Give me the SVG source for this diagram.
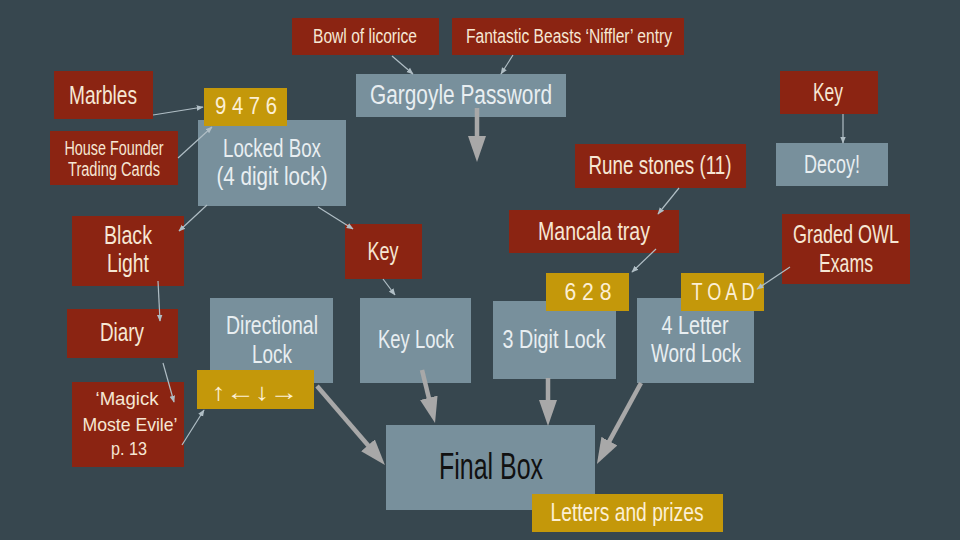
<svg xmlns="http://www.w3.org/2000/svg" width="960" height="540" viewBox="0 0 960 540">
<defs>
<style>
text{font-family:"Liberation Sans",Arial,sans-serif;text-anchor:middle}
.red rect{fill:#8b2412}
.red text{fill:#f6e7d4}
.grey rect{fill:#78909c}
.grey text{fill:#e8eef1}
.gold rect{fill:#c4980a}
.gold text{fill:#fcefd4}
.s19{font-size:19px}
.s20{font-size:20px}
.s24{font-size:24px}
.s25{font-size:25px}
.s26{font-size:26px}
.s27{font-size:27px}
.thin{stroke:#b0bec5;stroke-width:1.2;fill:none;marker-end:url(#ah)}
.thick{stroke:#a8a8a8;stroke-width:4.5;fill:none;marker-end:url(#bh)}
</style>
<marker id="ah" viewBox="0 0 10 10" refX="9" refY="5" markerWidth="7" markerHeight="7" markerUnits="userSpaceOnUse" orient="auto"><path d="M0,1 L10,5 L0,9 z" fill="#b0bec5"/></marker>
<marker id="bh" viewBox="0 0 26 18" refX="2" refY="9" markerWidth="26" markerHeight="18" markerUnits="userSpaceOnUse" orient="auto"><path d="M0,0 L26,9 L0,18 z" fill="#a8a8a8"/></marker>
</defs>
<rect width="960" height="540" fill="#37474f"/>

<g id="bowl" class="red"><rect x="292" y="18" width="147" height="37"/><text class="s20" x="365" y="43" textLength="104" lengthAdjust="spacingAndGlyphs">Bowl of licorice</text></g>
<g id="niffler" class="red"><rect x="452" y="18" width="232" height="37"/><text class="s20" x="569" y="43" textLength="206" lengthAdjust="spacingAndGlyphs">Fantastic Beasts ‘Niffler’ entry</text></g>
<g id="gargoyle" class="grey"><rect x="356" y="74" width="210" height="43"/><text class="s27" x="461" y="104" textLength="182" lengthAdjust="spacingAndGlyphs">Gargoyle Password</text></g>
<g id="marbles" class="red"><rect x="54" y="71" width="99" height="48"/><text class="s25" x="103" y="104" textLength="68" lengthAdjust="spacingAndGlyphs">Marbles</text></g>
<g id="housefounder" class="red"><rect x="50" y="131" width="128" height="54"/><text class="s20" x="114" y="155" textLength="99" lengthAdjust="spacingAndGlyphs">House Founder</text><text class="s20" x="114" y="176" textLength="92" lengthAdjust="spacingAndGlyphs">Trading Cards</text></g>
<g id="lockedbox" class="grey"><rect x="198" y="120" width="148" height="86"/><text class="s26" x="272" y="157" textLength="98" lengthAdjust="spacingAndGlyphs">Locked Box</text><text class="s26" x="272" y="185" textLength="111" lengthAdjust="spacingAndGlyphs">(4 digit lock)</text></g>
<g id="code9476" class="gold"><rect x="204" y="88" width="83" height="38"/><text class="s24" x="246" y="114" textLength="62" lengthAdjust="spacingAndGlyphs">9 4 7 6</text></g>
<g id="keyright" class="red"><rect x="780" y="71" width="98" height="43"/><text class="s25" x="828" y="101" textLength="30" lengthAdjust="spacingAndGlyphs">Key</text></g>
<g id="decoy" class="grey"><rect x="776" y="143" width="112" height="43"/><text class="s26" x="832" y="173" textLength="56" lengthAdjust="spacingAndGlyphs">Decoy!</text></g>
<g id="runestones" class="red"><rect x="575" y="144" width="171" height="44"/><text class="s26" x="660" y="174" textLength="143" lengthAdjust="spacingAndGlyphs">Rune stones (11)</text></g>
<g id="mancala" class="red"><rect x="509" y="210" width="170" height="43"/><text class="s25" x="594" y="240" textLength="112" lengthAdjust="spacingAndGlyphs">Mancala tray</text></g>
<g id="owl" class="red"><rect x="782" y="214" width="128" height="70"/><text class="s25" x="846" y="243" textLength="106" lengthAdjust="spacingAndGlyphs">Graded OWL</text><text class="s25" x="846" y="272" textLength="54" lengthAdjust="spacingAndGlyphs">Exams</text></g>
<g id="blacklight" class="red"><rect x="72" y="216" width="112" height="70"/><text class="s25" x="128" y="244" textLength="48" lengthAdjust="spacingAndGlyphs">Black</text><text class="s25" x="128" y="272" textLength="42" lengthAdjust="spacingAndGlyphs">Light</text></g>
<g id="keymid" class="red"><rect x="345" y="224" width="77" height="55"/><text class="s25" x="383" y="260" textLength="31" lengthAdjust="spacingAndGlyphs">Key</text></g>
<g id="diary" class="red"><rect x="67" y="309" width="111" height="49"/><text class="s25" x="122" y="341" textLength="44" lengthAdjust="spacingAndGlyphs">Diary</text></g>
<g id="directional" class="grey"><rect x="210" y="298" width="123" height="85"/><text class="s25" x="272" y="334" textLength="92" lengthAdjust="spacingAndGlyphs">Directional</text><text class="s25" x="272" y="363" textLength="40" lengthAdjust="spacingAndGlyphs">Lock</text></g>
<g id="keylock" class="grey"><rect x="360" y="298" width="111" height="85"/><text class="s25" x="416" y="348" textLength="76" lengthAdjust="spacingAndGlyphs">Key Lock</text></g>
<g id="digit3" class="grey"><rect x="493" y="301" width="123" height="78"/><text class="s25" x="554" y="348" textLength="103" lengthAdjust="spacingAndGlyphs">3 Digit Lock</text></g>
<g id="letter4" class="grey"><rect x="637" y="298" width="117" height="85"/><text class="s25" x="695" y="334" textLength="67" lengthAdjust="spacingAndGlyphs">4 Letter</text><text class="s25" x="696" y="362" textLength="90" lengthAdjust="spacingAndGlyphs">Word Lock</text></g>
<g id="code628" class="gold"><rect x="546" y="273" width="83" height="38"/><text class="s24" x="588" y="300" textLength="47" lengthAdjust="spacingAndGlyphs">6 2 8</text></g>
<g id="toad" class="gold"><rect x="681" y="273" width="83" height="38"/><text class="s24" x="723" y="300" textLength="63" lengthAdjust="spacingAndGlyphs">T O A D</text></g>
<g id="arrowscode" class="gold"><rect x="197" y="370" width="117" height="39"/><text class="s24" x="255" y="400" textLength="87" lengthAdjust="spacingAndGlyphs">↑←↓→</text></g>
<g id="magick" class="red"><rect x="72" y="382" width="112" height="85"/><text class="s19" x="127" y="405" textLength="63" lengthAdjust="spacingAndGlyphs">‘Magick</text><text class="s19" x="130" y="431" textLength="95" lengthAdjust="spacingAndGlyphs">Moste Evile’</text><text class="s19" x="129" y="455" textLength="36" lengthAdjust="spacingAndGlyphs">p. 13</text></g>
<g id="finalbox" class="grey"><rect x="386" y="425" width="209" height="85"/><text x="491" y="479" textLength="104" lengthAdjust="spacingAndGlyphs" style="font-size:36px;fill:#111">Final Box</text></g>
<g id="prizes" class="gold"><rect x="532" y="494" width="191" height="38"/><text class="s25" x="627" y="521" textLength="153" lengthAdjust="spacingAndGlyphs">Letters and prizes</text></g>

<g id="connectors">
<line class="thin" x1="392" y1="56" x2="413" y2="74"/>
<line class="thin" x1="513" y1="55" x2="501" y2="74"/>
<line class="thin" x1="153" y1="115" x2="203" y2="107"/>
<line class="thin" x1="178" y1="158" x2="212" y2="127"/>
<line class="thin" x1="207" y1="205" x2="179" y2="231"/>
<line class="thin" x1="318" y1="207" x2="353" y2="229"/>
<line class="thin" x1="383" y1="279" x2="395" y2="295"/>
<line class="thin" x1="158" y1="281" x2="160" y2="321"/>
<line class="thin" x1="163" y1="363" x2="174" y2="402"/>
<line class="thin" x1="182" y1="445" x2="204" y2="410"/>
<line class="thin" x1="843" y1="114" x2="843" y2="143"/>
<line class="thin" x1="679" y1="188" x2="658" y2="214"/>
<line class="thin" x1="656" y1="249" x2="632" y2="272"/>
<line class="thin" x1="790" y1="267" x2="757" y2="289"/>
<line class="thick" x1="477" y1="108" x2="477" y2="138"/>
<line class="thick" x1="317" y1="386" x2="369.3" y2="446.8"/>
<line class="thick" x1="422" y1="370" x2="429.3" y2="399.7"/>
<line class="thick" x1="548" y1="378" x2="548" y2="402"/>
<line class="thick" x1="641" y1="383" x2="608.4" y2="442.9"/>
</g>
</svg>
